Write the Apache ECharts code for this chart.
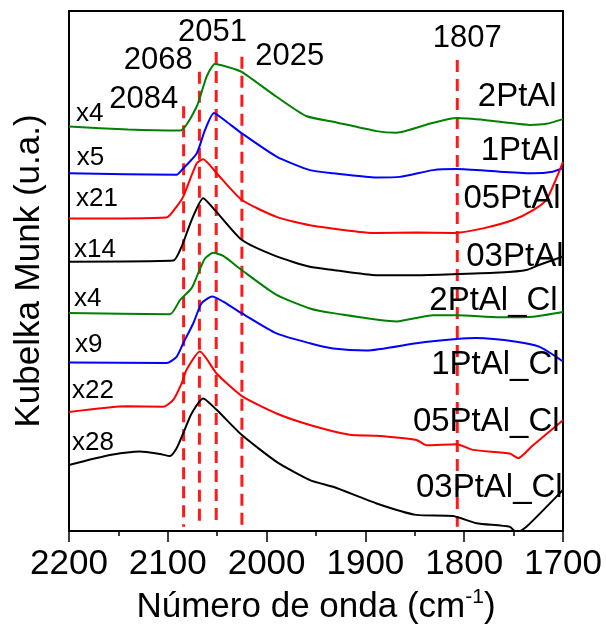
<!DOCTYPE html>
<html><head><meta charset="utf-8">
<script src="https://cdn.jsdelivr.net/npm/echarts@6/dist/echarts.min.js"></script>
<style>html,body{margin:0;padding:0;background:#fff}#c{width:606px;height:627px}</style>
</head><body><div id="c"></div>
<script>
// ---- data (wavenumber cm-1, offset Kubelka-Munk value in arbitrary units 0-100) ----
const seriesNames = ['2PtAl','1PtAl','05PtAl','03PtAl','2PtAl_Cl','1PtAl_Cl','05PtAl_Cl','03PtAl_Cl'];
const seriesColors = ['#008000','#0000ff','#ff0000','#000000','#008000','#0000ff','#ff0000','#000000'];

const wn_2PtAl = [2200,2140,2087.7,2070.8,2060.7,2052.3,2040.5,2025.3,1989.9,1960,1932.6,1888.7,1868.5,1831.5,1807.8,1777.8,1733.7,1716.8,1700];
const km_2PtAl = [77.8,77.2,77.0,81.6,87.4,89.8,89.3,88.3,83.5,79.8,78.7,76.9,76.6,78.5,79.4,79.0,78.1,78.3,79.2];

const wn_1PtAl = [2200,2091.1,2086.0,2070.8,2062.4,2053.3,2040.5,2025.3,1989.9,1956.2,1932.6,1888.7,1865.2,1831.5,1807.8,1764.0,1730.3,1710.4,1700];
const km_1PtAl = [68.8,68.5,69.4,72.6,77.1,80.4,78.7,76.5,72.0,69.4,68.8,68.0,68.1,69.4,69.6,69.1,68.8,69.1,69.8];

const wn_05PtAl = [2200,2101.2,2091.1,2084.4,2070.8,2064.2,2050.6,2025.3,1989.9,1956.2,1888.7,1848.3,1811.3,1780.9,1750.6,1730.3,1716.8,1700];
const km_05PtAl = [60.1,60.3,62.4,64.3,70.7,71.5,68.8,63.7,60.4,58.8,57.3,57.4,57.3,58.2,59.8,61.7,63.7,71.0];

const wn_03PtAl = [2200,2094.5,2086.0,2075.9,2064.2,2052.3,2025.3,1989.9,1956.2,1932.6,1888.7,1848.3,1807.8,1764.0,1737.0,1723.6,1700];
const km_03PtAl = [51.8,52.0,54.7,59.8,64.0,61.7,56.0,52.8,50.8,50.2,49.2,49.2,49.4,49.7,50.2,51.2,52.8];

const wn_2PtAl_Cl = [2200,2097.8,2087.7,2075.9,2069.2,2062.4,2054.0,2043.9,2025.3,1989.9,1956.2,1932.6,1868.5,1831.5,1807.8,1764.0,1730.3,1700];
const km_2PtAl_Cl = [41.9,41.7,44.4,46.7,49.6,52.4,53.5,52.9,50.2,45.4,42.8,41.9,40.3,41.5,41.5,41.1,41.2,42.1];

const wn_1PtAl_Cl = [2200,2101.2,2091.1,2084.4,2074.3,2065.8,2055.0,2043.9,2025.3,1989.9,1956.2,1932.6,1898.9,1848.3,1807.8,1787.6,1747.1,1723.6,1700];
const km_1PtAl_Cl = [32.4,32.3,33.5,36.1,39.9,43.8,45.1,44.1,41.9,38.0,36.1,35.1,34.7,36.1,36.9,37.1,36.4,35.4,32.6];

const wn_05PtAl_Cl = [2200,2141.6,2104.6,2094.5,2086.0,2081.0,2067.5,2050.6,2025.3,1989.9,1956.2,1915.8,1888.7,1848.3,1838.2,1807.8,1791.0,1753.9,1745.5,1730.3,1700];
const km_05PtAl_Cl = [22.9,24.0,23.9,25.2,28.4,31.0,34.5,30.3,26.0,22.6,20.4,18.5,18.3,17.5,16.5,16.7,15.6,14.9,14.0,16.5,21.3];

const wn_03PtAl_Cl = [2200,2158.5,2128.2,2107.9,2097.8,2091.1,2084.4,2075.9,2064.2,2050.6,2025.3,1989.9,1956.2,1932.6,1888.7,1848.3,1811.3,1787.6,1753.9,1747.1,1737.0,1700];
const km_03PtAl_Cl = [12.7,14.6,15.3,14.8,14.4,15.9,18.8,22.6,25.5,23.3,18.5,13.3,9.8,8.5,5.3,3.1,2.9,1.5,0.8,-0.3,0.8,7.9];

// marked band positions (dashed lines) and their top ends
const peakPositions = [2084, 2068, 2051, 2025, 1807];
const peakLineTop   = [81.7, 88.3, 92.1, 91.2, 90.6];
const peakLineBottom = 0.8;
const peakLabelText = ['2084','2068','2051','2025','1807'];
const peakLabelX    = [2124.3, 2109.7, 2054.8, 1976.5, 1796.9];
const peakLabelY    = [82.9, 90.4, 95.9, 91.3, 94.8];

// scale factors (left side) and sample names (right side)
const factorText = ['x4','x5','x21','x14','x4','x9','x22','x28'];
const factorX    = [2192.9, 2192.2, 2192.9, 2194.9, 2194.9, 2193.9, 2196.9, 2196.9];
const factorY    = [80.3, 71.8, 63.8, 54.1, 44.6, 35.8, 27.0, 17.0];
const nameX      = [1706.4, 1703.4, 1702.4, 1699.5, 1705.4, 1703.4, 1703.4, 1700.3];
const nameY      = [83.4, 73.1, 63.8, 52.8, 44.2, 31.9, 21.0, 8.3];

const xTicks = { min: 1700, max: 2200, interval: 100 };

// ---- build chart ----
const allWn = [wn_2PtAl, wn_1PtAl, wn_05PtAl, wn_03PtAl, wn_2PtAl_Cl, wn_1PtAl_Cl, wn_05PtAl_Cl, wn_03PtAl_Cl];
const allKm = [km_2PtAl, km_1PtAl, km_05PtAl, km_03PtAl, km_2PtAl_Cl, km_1PtAl_Cl, km_05PtAl_Cl, km_03PtAl_Cl];
const FONT = 'Liberation Sans, Arial, sans-serif';

const series = [];
peakPositions.forEach((p, i) => {
  series.push({
    type: 'line', silent: true, symbol: 'none', z: 3,
    data: [[p, peakLineTop[i]], [p, peakLineBottom]],
    lineStyle: { color: '#ff1a1a', width: 3, type: [12, 7] }
  });
});
seriesNames.forEach((n, i) => {
  series.push({
    name: n, type: 'line', symbol: 'none', smooth: 0.2, z: 4,
    data: allWn[i].map((w, j) => [w, allKm[i][j]]),
    lineStyle: { color: seriesColors[i], width: 2 }
  });
});

const chart = echarts.init(document.getElementById('c'), null, { renderer: 'canvas' });
chart.setOption({
  animation: false,
  backgroundColor: '#fff',
  grid: { left: 69, right: 43, top: 11, bottom: 96, show: true, borderColor: '#000', borderWidth: 2,
          containLabel: false, outerBoundsMode: 'none' },
  xAxis: {
    type: 'value', min: xTicks.min, max: xTicks.max, interval: xTicks.interval, inverse: true,
    axisLine: { show: true, lineStyle: { color: '#000', width: 2 } },
    axisTick: { show: true, inside: false, length: 11, lineStyle: { color: '#000', width: 1.5 } },
    minorTick: { show: true, splitNumber: 2, length: 5, lineStyle: { color: '#000', width: 1.5 } },
    splitLine: { show: false },
    axisLabel: { color: '#000', fontSize: 35, fontFamily: FONT, margin: 16, formatter: v => String(v) },
    name: '{a|Número de onda (cm}{s|-1}{a|)}',
    nameLocation: 'middle', nameGap: 56,
    nameTextStyle: {
      rich: {
        a: { fontSize: 35, fontFamily: FONT, color: '#000', lineHeight: 40 },
        s: { fontSize: 21, fontFamily: FONT, color: '#000', lineHeight: 22, verticalAlign: 'top' }
      }
    }
  },
  yAxis: {
    type: 'value', min: 0, max: 100,
    axisLine: { show: false }, axisTick: { show: false }, axisLabel: { show: false }, splitLine: { show: false },
    name: 'Kubelka Munk (u.a.)', nameLocation: 'middle', nameRotate: 90, nameGap: 22,
    nameTextStyle: { fontSize: 35, fontFamily: FONT, color: '#000' }
  },
  series: series
});

// text annotations placed through the chart's own coordinate system
function texts(xs, ys, strs, align, size) {
  return xs.map((x, i) => {
    const p = chart.convertToPixel({ gridIndex: 0 }, [x, ys[i]]);
    return {
      type: 'text', x: p[0], y: p[1], z: 100,
      style: { text: strs[i], fill: '#000', fontSize: size, fontFamily: FONT, align: align, verticalAlign: 'middle' }
    };
  });
}
chart.setOption({
  graphic: [].concat(
    texts(peakLabelX, peakLabelY, peakLabelText, 'center', 31),
    texts(factorX, factorY, factorText, 'left', 26),
    texts(nameX, nameY, seriesNames, 'right', 33)
  )
});
</script></body></html>
